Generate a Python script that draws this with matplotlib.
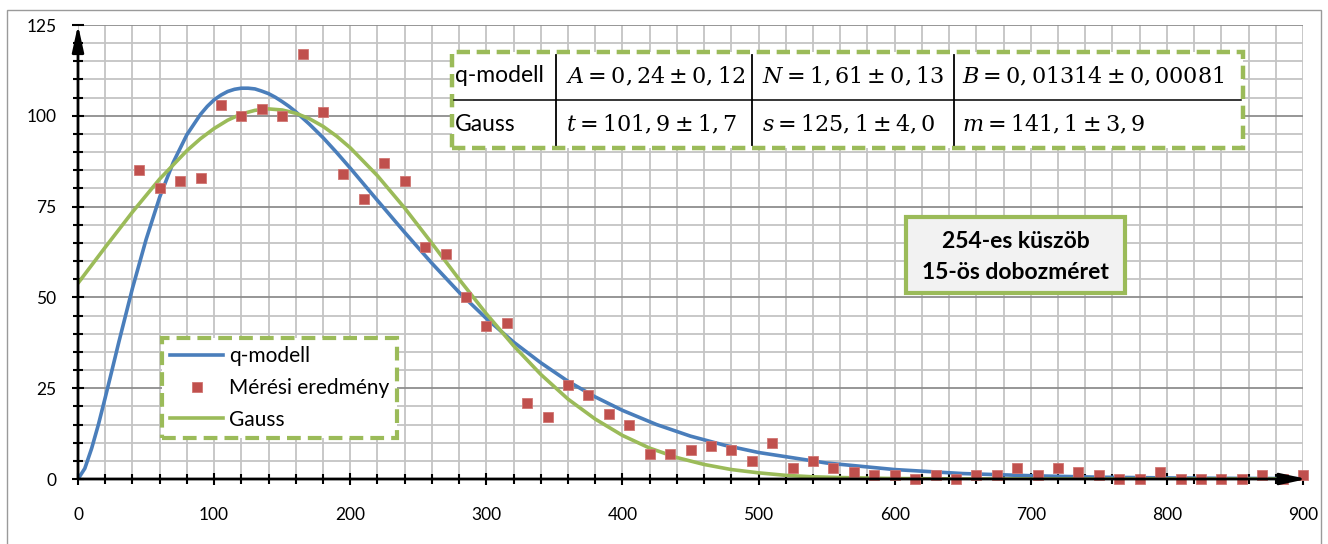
import matplotlib
matplotlib.use('Agg')
import matplotlib.pyplot as plt
from matplotlib.patches import Rectangle
from matplotlib.lines import Line2D
from matplotlib.ticker import MultipleLocator

# ---------------- data ----------------
meas_x = [45, 60, 75, 90, 105, 120, 135, 150, 165, 180, 195, 210, 225, 240, 255,
          270, 285, 300, 315, 330, 345, 360, 375, 390, 405, 420, 435, 450, 465, 480,
          495, 510, 525, 540, 555, 570, 585, 600, 615, 630, 645, 660, 675, 690, 705,
          720, 735, 750, 765, 780, 795, 810, 825, 840, 855, 870, 885, 900]
meas_y = [85, 80, 82, 83, 103, 100, 102, 100, 117, 101, 84, 77, 87, 82, 64,
          62, 50, 42, 43, 21, 17, 26, 23, 18, 15, 7, 7, 8, 9, 8,
          5, 10, 3, 5, 3, 2, 1, 1, 0, 1, 0, 1, 1, 3, 1,
          3, 2, 1, 0, 0, 2, 0, 0, 0, 0, 1, 0, 1]

qmodel_x = [0, 5, 10, 15, 20, 25, 30, 40, 50, 60, 70, 80, 90, 95, 100, 105, 110, 115,
            120, 125, 130, 135, 140, 145, 150, 155, 160, 170, 180, 190, 200, 220, 240,
            260, 280, 300, 320, 340, 360, 380, 400, 425, 450, 475, 500, 550, 600, 650,
            700, 750, 800, 850, 900]
qmodel_y = [0, 2.9, 8.4, 15.0, 22.4, 30.0, 37.7, 52.5, 65.9, 77.6, 87.2, 94.8, 100.4,
            102.6, 104.4, 105.7, 106.7, 107.3, 107.6, 107.6, 107.4, 106.8, 106.1, 105.1,
            103.9, 102.6, 101.1, 97.7, 94.0, 89.9, 85.6, 76.7, 67.9, 59.4, 51.4, 44.2,
            37.7, 32.0, 26.9, 22.6, 18.9, 15.0, 11.8, 9.3, 7.3, 4.4, 2.6, 1.5, 0.9, 0.5,
            0.3, 0.17, 0.1]

gauss_x = [0, 20, 40, 60, 80, 90, 100, 110, 120, 130, 140, 150, 160, 170, 180, 190,
           200, 220, 240, 260, 280, 300, 320, 340, 360, 380, 400, 420, 440, 460, 480,
           500, 520, 540, 560, 600, 650, 700, 800, 900]
gauss_y = [53.9, 63.8, 73.5, 82.6, 90.4, 93.7, 96.5, 98.8, 100.5, 101.5, 101.9, 101.6,
           100.7, 99.2, 97.1, 94.4, 91.2, 83.5, 74.6, 64.9, 55.0, 45.5, 36.7, 28.8,
           22.0, 16.5, 12.0, 8.5, 5.9, 4.0, 2.6, 1.7, 1.0, 0.6, 0.4, 0.12, 0.02, 0, 0, 0]

x_ticks = [0, 100, 200, 300, 400, 500, 600, 700, 800, 900]
y_ticks = [0, 25, 50, 75, 100, 125]
legend_labels = ['q-modell', 'Mérési eredmény', 'Gauss']
table_rows = [['q-modell', r'$A=0,24\pm0,12$', r'$N=1,61\pm0,13$',
               r'$B=0,01314\pm0,00081$'],
              ['Gauss', r'$t=101,9\pm1,7$', r'$s=125,1\pm4,0$',
               r'$m=141,1\pm3,9$']]
note_lines = ['254-es küszöb', '15-ös dobozméret']

# ---------------- style ----------------
plt.rcParams['font.family'] = ['Lato', 'DejaVu Sans']
plt.rcParams['mathtext.fontset'] = 'dejavuserif'

BLUE = '#4A7EBB'
RED = '#C0504D'
GREEN = '#9BBB59'

W, H = 1328, 544
fig = plt.figure(figsize=(W / 100, H / 100), dpi=100)
ax = fig.add_axes([78 / W, 65 / H, 1225 / W, 454 / H])

ax.set_xlim(0, 900)
ax.set_ylim(0, 125)
ax.set_xticks(x_ticks)
ax.set_yticks(y_ticks)
ax.xaxis.set_minor_locator(MultipleLocator(20))
ax.yaxis.set_minor_locator(MultipleLocator(5))

ax.set_axisbelow(True)
ax.grid(which='both', axis='x', color='#C4C4C4', lw=1.3)
ax.grid(which='minor', axis='y', color='#C4C4C4', lw=1.3)
ax.grid(which='major', axis='y', color='#8E8E8E', lw=1.3)

for s in ['top', 'right', 'left', 'bottom']:
    ax.spines[s].set_visible(False)

ax.tick_params(which='major', direction='inout', length=9, width=1.5, color='black',
               labelsize=12.5)
ax.tick_params(which='minor', direction='inout', length=7.5, width=1.5, color='black')
ax.tick_params(axis='x', which='major', pad=16)
ax.tick_params(axis='y', which='major', pad=11)

# axes with arrow heads
arrow_style = '-|>,head_length=1.6,head_width=0.35'
ax.annotate('', xy=(0, 1), xycoords='axes fraction', xytext=(0, 0),
            arrowprops=dict(arrowstyle=arrow_style, color='black', lw=2,
                            shrinkA=0, shrinkB=0), annotation_clip=False, zorder=8)
ax.annotate('', xy=(1.003, 0), xycoords='axes fraction', xytext=(0, 0),
            arrowprops=dict(arrowstyle=arrow_style, color='black', lw=2,
                            shrinkA=0, shrinkB=0), annotation_clip=False, zorder=8)

# series
ax.plot(qmodel_x, qmodel_y, color=BLUE, lw=2.6, zorder=3, solid_capstyle='round',
        solid_joinstyle='round')
ax.plot(gauss_x, gauss_y, color=GREEN, lw=2.6, zorder=4, solid_capstyle='round',
        solid_joinstyle='round')
ax.plot(meas_x, meas_y, ls='none', marker='s', ms=7.2, color=RED, mec='#D07572',
        mew=0.6, zorder=6, clip_on=False)

# legend
handles = [Line2D([], [], color=BLUE, lw=2.6),
           Line2D([], [], ls='none', marker='s', ms=7.2, color=RED, mec='#D07572', mew=0.6),
           Line2D([], [], color=GREEN, lw=2.6)]
leg = ax.legend(handles, legend_labels, loc='upper left', bbox_to_anchor=(0.0686, 0.3106),
                borderaxespad=0, frameon=True, fancybox=False, edgecolor=GREEN,
                framealpha=1, fontsize=15, handlelength=2.55, handletextpad=0.25,
                labelspacing=0.56, borderpad=0.4)
fr = leg.get_frame()
fr.set_linestyle((0, (3.3, 1.7)))
fr.set_linewidth(3.0)
leg.set_zorder(7)

# parameter table
tx0, tx1 = 0.3053, 0.9510
ty0, ty1 = 0.7291, 0.9405
ax.add_patch(Rectangle((tx0, ty0), tx1 - tx0, ty1 - ty0, transform=ax.transAxes,
                       fc='white', ec=GREEN, lw=3.2, ls=(0, (3, 1.5)), zorder=7,
                       clip_on=False))
ax.plot([tx0 + 0.002, tx1 - 0.002], [0.8348, 0.8348], transform=ax.transAxes,
        color='black', lw=1.1, zorder=8, clip_on=False)
for cx in [0.3902, 0.5502, 0.7151]:
    ax.plot([cx, cx], [ty0 + 0.006, ty1 - 0.006], transform=ax.transAxes,
            color='black', lw=1.3, zorder=8, clip_on=False)
col_x = [0.3078, 0.3984, 0.5584, 0.7216]
row_y = [0.8877, 0.7819]
for r, row in enumerate(table_rows):
    for c, txt in enumerate(row):
        ax.text(col_x[c], row_y[r], txt, transform=ax.transAxes,
                fontsize=16.5 if c == 0 else 16, ha='left', va='center', zorder=9)

# note box
ax.add_patch(Rectangle((0.6759, 0.4097), 0.1788, 0.1674, transform=ax.transAxes,
                       fc='#F2F2F2', ec=GREEN, lw=3.0, zorder=7))
ax.text(0.7653, 0.5242, note_lines[0], transform=ax.transAxes, ha='center',
        va='center', fontsize=16.5, fontweight='bold', zorder=9)
ax.text(0.7653, 0.4559, note_lines[1], transform=ax.transAxes, ha='center',
        va='center', fontsize=16.5, fontweight='bold', zorder=9)

# outer chart border
fig.patches.append(Rectangle((7 / W, -0.05), 1314 / W, 1.05 - 10 / H,
                             transform=fig.transFigure, fill=False, ec='#9A9A9A',
                             lw=1.0))

fig.savefig('out.png', dpi=100)
